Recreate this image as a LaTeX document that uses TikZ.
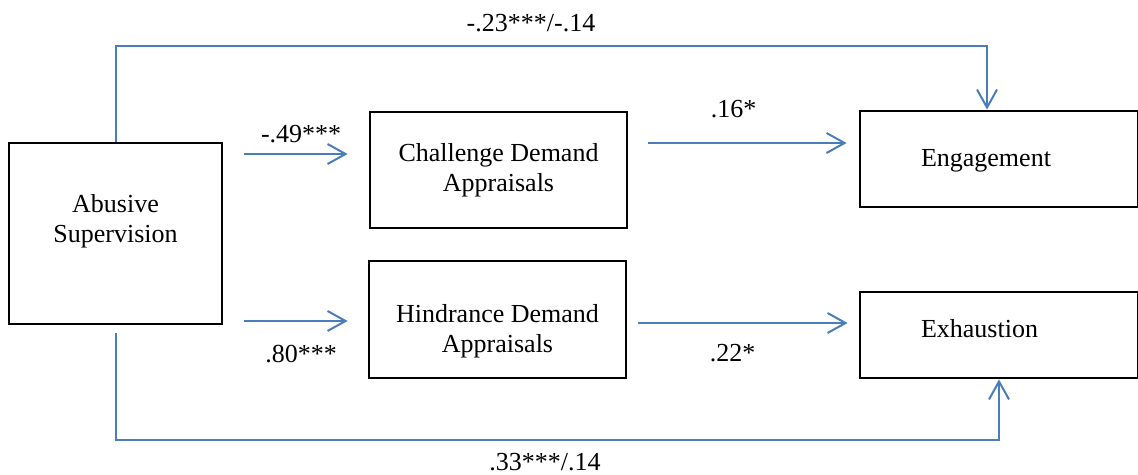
\documentclass[tikz,border=0pt]{standalone}
\usepackage{fontspec}
\setmainfont{Liberation Serif}
\usepackage{xcolor}
\usetikzlibrary{arrows.meta,positioning}
\definecolor{lineblue}{HTML}{4A7EBB}

\begin{document}
\begin{tikzpicture}[
    x=0.5pt, y=-0.5pt,
    box/.style={draw, line width=1.4pt, inner sep=0pt},
    lbl/.style={align=center, inner sep=0pt, font=\fontsize{13}{15}\selectfont},
    coef/.style={anchor=base, inner sep=0pt, font=\fontsize{13}{15}\selectfont},
    arrow/.style={-{Straight Barb[length=9pt,width=10pt]}, color=lineblue, line width=1pt}
]
\useasboundingbox (0,0) rectangle (1138,475);
\node[box, minimum width=106.5pt, minimum height=90.5pt] (abs) at (115.5,233.5) {};
\node[box, minimum width=128.5pt, minimum height=58pt] (cha) at (498.5,170) {};
\node[box, minimum width=128.5pt, minimum height=58.5pt] (hin) at (497.5,319.5) {};
\node[box, minimum width=139pt, minimum height=48pt] (eng) at (999,159) {};
\node[box, minimum width=139pt, minimum height=43pt] (exh) at (999,335) {};
\node[lbl] (abs-t) at ([yshift=6pt]abs.center) {Abusive\\Supervision};
\node[lbl] (cha-t) at (cha.center) {Challenge Demand\\Appraisals};
\node[lbl] (hin-t) at ([yshift=-6pt]hin.center) {Hindrance Demand\\Appraisals};
\node[lbl, anchor=west] (eng-t) at ([shift={(62,2)}]eng.west) {Engagement};
\node[lbl, anchor=west] (exh-t) at ([shift={(62,-6)}]exh.west) {Exhaustion};
\coordinate (bot) at ([yshift=-4pt]abs.south);
\draw[arrow] ([shift={(21,-79.5)}]abs.east) -- node[coef, pos=0.55, yshift=5.5pt, black] {-.49***} ([shift={(-21,-16)}]cha.west);
\draw[arrow] ([shift={(21,87.5)}]abs.east) -- node[coef, pos=0.55, yshift=-20.5pt, black] {.80***} ([shift={(-20,1.5)}]hin.west);
\draw[arrow] ([shift={(20,-27)}]cha.east) -- node[coef, pos=0.43, yshift=12.5pt, black] {.16*} ([shift={(-12,-16)}]eng.west);
\draw[arrow] ([shift={(11,3.5)}]hin.east) -- node[coef, pos=0.45, yshift=-19pt, black] {.22*} ([shift={(-11,-12)}]exh.west);
\draw[arrow] (abs.north) |- ([xshift=-6pt,yshift=32pt]eng.north) -- ([xshift=-6pt]eng.north);
\draw[arrow] (bot) |- ([yshift=-30.5pt]exh.south) -- (exh.south);
\node[coef] (c-top) at (531,32) {-.23***/-.14};
\node[coef] (c-bot) at (545,470) {.33***/.14};
\end{tikzpicture}
\end{document}
